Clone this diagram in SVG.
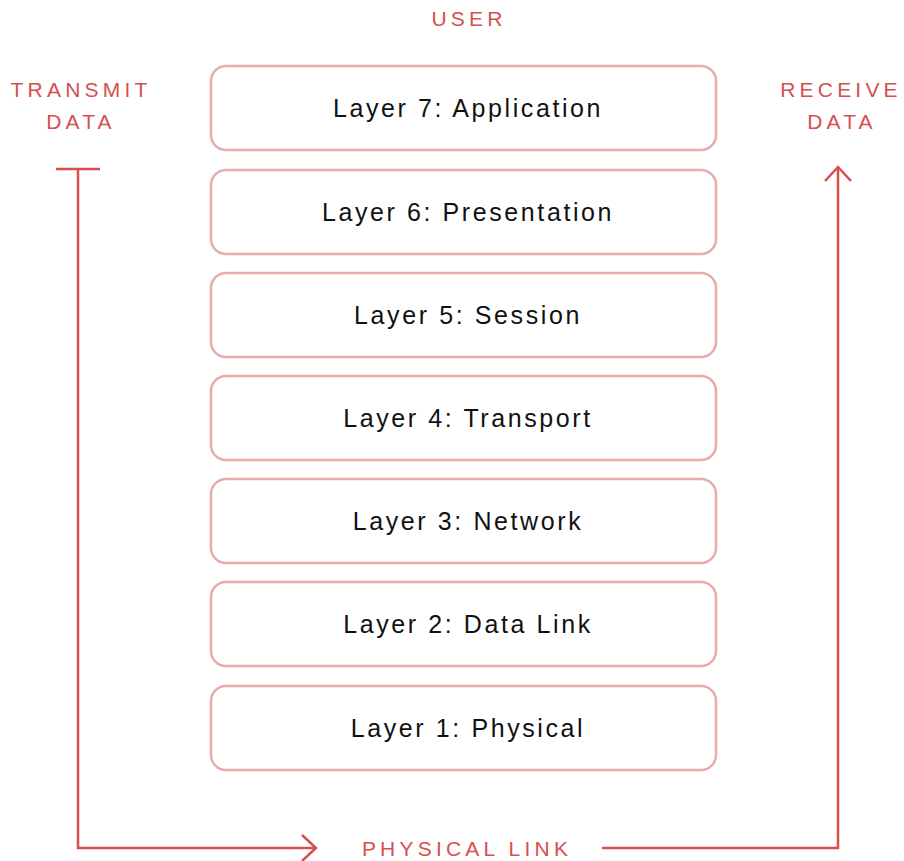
<svg xmlns="http://www.w3.org/2000/svg" width="904" height="861" viewBox="0 0 904 861">
  <style>
    .layer rect { fill: #ffffff; stroke: #e8aaaa; stroke-width: 2.5; }
    .layer text { font-family: "Liberation Sans", "DejaVu Sans", sans-serif; font-size: 25px; fill: #111111; text-anchor: middle; letter-spacing: 2.6px; }
    .cap { font-family: "Liberation Sans", "DejaVu Sans", sans-serif; font-size: 21px; fill: #d64f4f; text-anchor: middle; letter-spacing: 4.2px; }
    .wire { fill: none; stroke: #d64f4f; stroke-width: 2.5; }
  </style>
  <defs>
    <marker id="chev" markerWidth="20" markerHeight="30" refX="15" refY="15" orient="auto" markerUnits="userSpaceOnUse">
      <path d="M1,2 L15,15 L1,28" fill="none" stroke="#d64f4f" stroke-width="2.5"/>
    </marker>
  </defs>

  <text class="cap" x="469" y="26">USER</text>
  <text class="cap" x="81" y="97">TRANSMIT</text>
  <text class="cap" x="81" y="129">DATA</text>
  <text class="cap" x="841" y="97">RECEIVE</text>
  <text class="cap" x="842" y="129">DATA</text>
  <text class="cap" x="467" y="856">PHYSICAL LINK</text>

  <g id="layer7" class="layer"><rect x="211" y="66" width="505" height="84" rx="15"/><text x="468" y="117">Layer 7: Application</text></g>
  <g id="layer6" class="layer"><rect x="211" y="170" width="505" height="84" rx="15"/><text x="468" y="221">Layer 6: Presentation</text></g>
  <g id="layer5" class="layer"><rect x="211" y="273" width="505" height="84" rx="15"/><text x="468" y="324">Layer 5: Session</text></g>
  <g id="layer4" class="layer"><rect x="211" y="376" width="505" height="84" rx="15"/><text x="468" y="427">Layer 4: Transport</text></g>
  <g id="layer3" class="layer"><rect x="211" y="479" width="505" height="84" rx="15"/><text x="468" y="530">Layer 3: Network</text></g>
  <g id="layer2" class="layer"><rect x="211" y="582" width="505" height="84" rx="15"/><text x="468" y="633">Layer 2: Data Link</text></g>
  <g id="layer1" class="layer"><rect x="211" y="686" width="505" height="84" rx="15"/><text x="468" y="737">Layer 1: Physical</text></g>

  <g id="connectors">
    <path class="wire" d="M56,169 H100"/>
    <path class="wire" d="M78,169 V848 H316" marker-end="url(#chev)"/>
    <path class="wire" d="M602,848 H838 V167" marker-end="url(#chev)"/>
  </g>
</svg>
